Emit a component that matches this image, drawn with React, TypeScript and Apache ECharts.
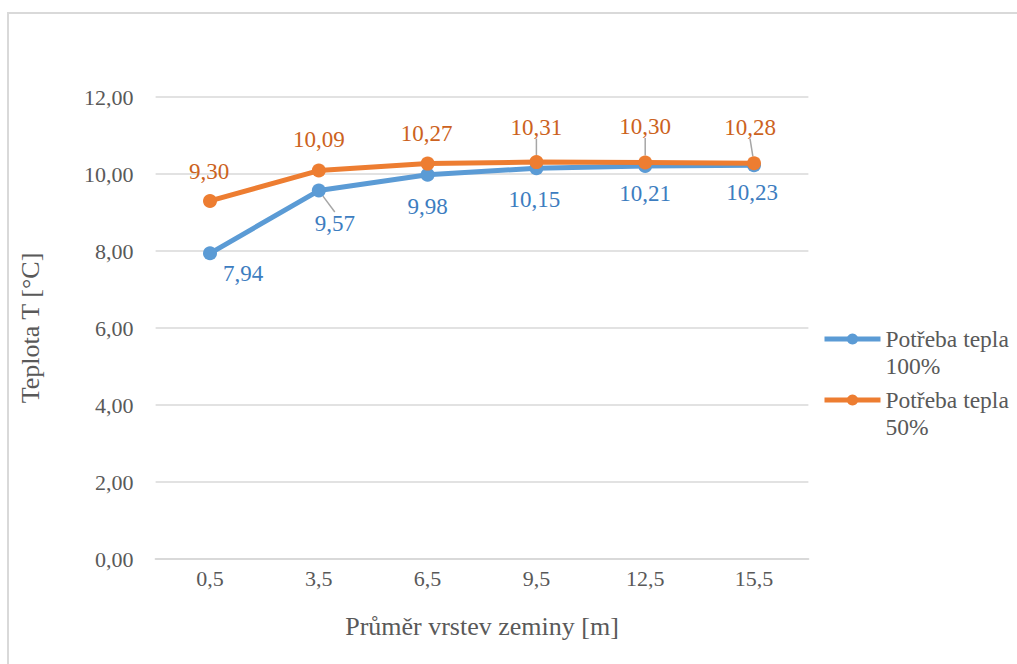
import React, { useEffect, useRef } from "react";
import * as echarts from "echarts";

const categories = ["0,5", "3,5", "6,5", "9,5", "12,5", "15,5"];
const seriesNames = ["Potřeba tepla\n100%", "Potřeba tepla\n50%"];
const heat100 = [7.94, 9.57, 9.98, 10.15, 10.21, 10.23];
const heat50 = [9.3, 10.09, 10.27, 10.31, 10.3, 10.28];
const xAxisTitle = "Průměr vrstev zeminy [m]";
const yAxisTitle = "Teplota T [°C]";

const FONT = "Liberation Serif";
const fmt = (v: number) => v.toFixed(2).replace(".", ",");

// label offsets relative to point (dx, dy)
const offsets: [number, number][][] = [
  [[33, 20], [16, 33], [0, 32], [-2, 31], [0, 28], [-2, 27]],
  [[-1, -29], [0, -31], [-1, -30], [0, -35], [0, -36], [-4, -36]],
];
const leaders: boolean[][] = [
  [false, true, false, false, false, false],
  [false, false, false, true, true, true],
];

export default function App() {
  const ref = useRef<HTMLDivElement>(null);
  useEffect(() => {
    document.body.style.margin = "0";
    const chart = echarts.init(ref.current!, null, { renderer: "svg" });
    const mk = (vals: number[], s: number) =>
      vals.map((v, i) => ({ value: v, labelLine: { show: leaders[s][i] } }));
    const layout = (p: any) => {
      const o = offsets[p.seriesIndex][p.dataIndex];
      return { dx: o[0], dy: o[1] };
    };
    chart.setOption({
      animation: false,
      backgroundColor: "#ffffff",
      textStyle: { fontFamily: FONT },
      graphic: [
        {
          type: "rect",
          shape: { x: 8, y: 13, width: 1030, height: 680 },
          style: { fill: "none", stroke: "#d9d9d9", lineWidth: 2 },
          silent: true,
        },
      ],
      grid: { left: 155.6, right: 208.6, top: 97, bottom: 105 },
      legend: {
        orient: "vertical",
        left: 817,
        top: 293.5,
        itemWidth: 56,
        itemHeight: 14,
        itemGap: -20,
        data: seriesNames,
        lineStyle: { width: 5 },
        formatter: (name: string) => " \n" + name,
        textStyle: {
          fontFamily: FONT,
          fontSize: 23.5,
          color: "#595959",
          lineHeight: 27,
        },
      },
      xAxis: {
        type: "category",
        data: categories,
        boundaryGap: true,
        axisLine: { lineStyle: { color: "#d9d9d9", width: 2 } },
        axisTick: { show: false },
        axisLabel: { fontFamily: FONT, fontSize: 22, color: "#595959", margin: 8 },
        name: xAxisTitle,
        nameLocation: "middle",
        nameGap: 54,
        nameTextStyle: { fontFamily: FONT, fontSize: 26, color: "#595959" },
      },
      yAxis: {
        type: "value",
        min: 0,
        max: 12,
        interval: 2,
        axisLine: { show: false },
        axisTick: { show: false },
        splitLine: { lineStyle: { color: "#d9d9d9", width: 1.5 } },
        axisLabel: {
          fontFamily: FONT,
          fontSize: 22,
          color: "#595959",
          margin: 22,
          formatter: (v: number) => fmt(v),
        },
        name: yAxisTitle,
        nameLocation: "middle",
        nameGap: 112,
        nameTextStyle: { fontFamily: FONT, fontSize: 26, color: "#595959" },
      },
      series: [
        {
          name: seriesNames[0],
          type: "line",
          data: mk(heat100, 0),
          symbol: "circle",
          symbolSize: 14,
          color: "#5b9bd5",
          lineStyle: { width: 5, color: "#5b9bd5" },
          itemStyle: { color: "#5b9bd5" },
          label: {
            show: true,
            position: "inside",
            fontFamily: FONT,
            fontSize: 23,
            color: "#3d7dc0",
            formatter: (p: any) => fmt(p.value),
          },
          labelLayout: layout,
          labelLine: { length2: 0, smooth: false, lineStyle: { color: "#a6a6a6", width: 1.5 } },
          z: 2,
        },
        {
          name: seriesNames[1],
          type: "line",
          data: mk(heat50, 1),
          symbol: "circle",
          symbolSize: 14,
          color: "#ed7d31",
          lineStyle: { width: 5, color: "#ed7d31" },
          itemStyle: { color: "#ed7d31" },
          label: {
            show: true,
            position: "inside",
            fontFamily: FONT,
            fontSize: 23,
            color: "#cc6220",
            formatter: (p: any) => fmt(p.value),
          },
          labelLayout: layout,
          labelLine: { length2: 0, smooth: false, lineStyle: { color: "#a6a6a6", width: 1.5 } },
          z: 3,
        },
      ],
    });
    return () => chart.dispose();
  }, []);
  return <div ref={ref} style={{ width: 1017, height: 664 }} />;
}
